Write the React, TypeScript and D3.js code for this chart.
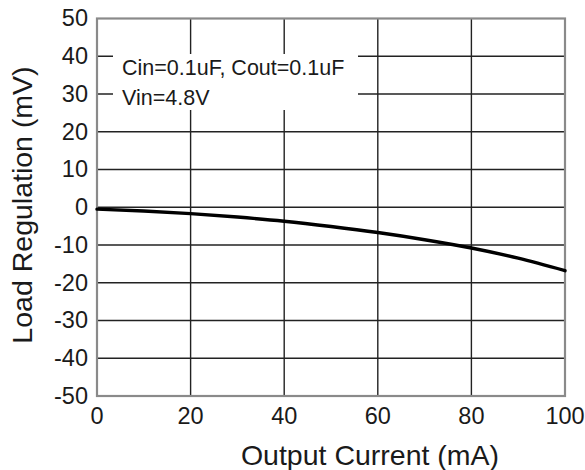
import React, { useEffect, useRef } from "react";
import * as d3 from "d3";

const currentMA = [0, 10, 20, 30, 40, 50, 60, 70, 80, 90, 100];
const loadRegMV = [-0.5, -1.0, -1.7, -2.6, -3.7, -5.1, -6.7, -8.6, -10.8, -13.5, -16.8];
const xTicks = [0, 20, 40, 60, 80, 100];
const yTicks = [50, 40, 30, 20, 10, 0, -10, -20, -30, -40, -50];
const annotationLines = ["Cin=0.1uF, Cout=0.1uF", "Vin=4.8V"];

const W = 585;
const H = 470;
const M = { left: 97, right: 20, top: 18.5, bottom: 74 };
const FONT = "'Liberation Sans', Arial, Helvetica, sans-serif";

export default function App() {
  const ref = useRef<SVGSVGElement | null>(null);

  useEffect(() => {
    const svg = d3.select(ref.current);
    svg.selectAll("*").remove();

    const x = d3.scaleLinear().domain([0, 100]).range([M.left, W - M.right]);
    const y = d3.scaleLinear().domain([-50, 50]).range([H - M.bottom, M.top]);

    const g = svg.append("g");

    // grid lines
    g.selectAll("line.vg")
      .data(xTicks.slice(1, -1))
      .enter()
      .append("line")
      .attr("x1", (d) => x(d))
      .attr("x2", (d) => x(d))
      .attr("y1", y(50))
      .attr("y2", y(-50))
      .attr("stroke", "#222")
      .attr("stroke-width", 1.4);

    g.selectAll("line.hg")
      .data(yTicks.slice(1, -1))
      .enter()
      .append("line")
      .attr("x1", x(0))
      .attr("x2", x(100))
      .attr("y1", (d) => y(d))
      .attr("y2", (d) => y(d))
      .attr("stroke", "#222")
      .attr("stroke-width", 1.4);

    // annotation background
    g.append("rect")
      .attr("x", 113)
      .attr("y", 54)
      .attr("width", 245)
      .attr("height", 56)
      .attr("fill", "#fff");

    g.selectAll("text.ann")
      .data(annotationLines)
      .enter()
      .append("text")
      .attr("x", 122)
      .attr("y", (_d, i) => 75 + i * 30)
      .attr("font-family", FONT)
      .attr("font-size", 21.5)
      .attr("fill", "#1a1a1a")
      .text((d) => d);

    // border
    g.append("rect")
      .attr("x", x(0))
      .attr("y", y(50))
      .attr("width", x(100) - x(0))
      .attr("height", y(-50) - y(50))
      .attr("fill", "none")
      .attr("stroke", "#8a8a8a")
      .attr("stroke-width", 2.2);

    // curve
    const line = d3
      .line<number>()
      .x((_d, i) => x(currentMA[i]))
      .y((d) => y(d))
      .curve(d3.curveMonotoneX);

    g.append("path")
      .datum(loadRegMV)
      .attr("d", line)
      .attr("fill", "none")
      .attr("stroke", "#000")
      .attr("stroke-width", 3.4)
      .attr("stroke-linecap", "round");

    // tick labels
    g.selectAll("text.xt")
      .data(xTicks)
      .enter()
      .append("text")
      .attr("x", (d) => x(d))
      .attr("y", 424)
      .attr("text-anchor", "middle")
      .attr("font-family", FONT)
      .attr("font-size", 23.5)
      .attr("fill", "#1a1a1a")
      .text((d) => String(d));

    g.selectAll("text.yt")
      .data(yTicks)
      .enter()
      .append("text")
      .attr("x", 88)
      .attr("y", (d) => y(d))
      .attr("dy", "0.33em")
      .attr("text-anchor", "end")
      .attr("font-family", FONT)
      .attr("font-size", 23.5)
      .attr("fill", "#1a1a1a")
      .text((d) => String(d));

    // axis titles
    g.append("text")
      .attr("x", 370)
      .attr("y", 465)
      .attr("text-anchor", "middle")
      .attr("font-family", FONT)
      .attr("font-size", 28.5)
      .attr("fill", "#1a1a1a")
      .text("Output Current (mA)");

    g.append("text")
      .attr("transform", `translate(32, ${205}) rotate(-90)`)
      .attr("text-anchor", "middle")
      .attr("font-family", FONT)
      .attr("font-size", 28.5)
      .attr("fill", "#1a1a1a")
      .text("Load Regulation (mV)");
  }, []);

  return (
    <svg
      ref={ref}
      width={W}
      height={H}
      style={{ position: "absolute", left: 0, top: 0, display: "block", background: "#fff" }}
    />
  );
}
